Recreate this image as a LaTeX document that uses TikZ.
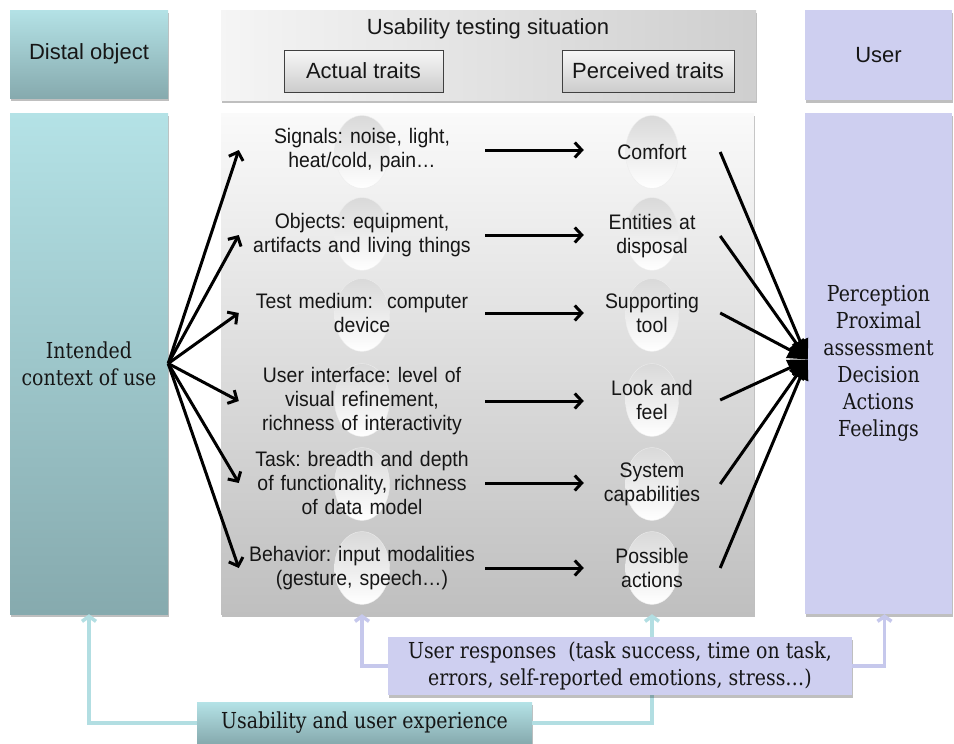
\documentclass[tikz,border=0pt]{standalone}
\usepackage{fontspec}
\setmainfont{Liberation Sans}
\newfontfamily\sansc[FakeStretch=0.925]{Liberation Sans}
\newfontfamily\serifc[FakeStretch=0.86]{DejaVu Serif}
\usetikzlibrary{arrows.meta,shapes.geometric,shadows}
\frenchspacing

\definecolor{tealtop}{RGB}{180,226,230}
\definecolor{tealbot}{RGB}{134,170,174}
\definecolor{lav}{RGB}{206,207,240}
\definecolor{lavline}{RGB}{198,200,236}
\definecolor{tealline}{RGB}{178,222,226}
\definecolor{ink}{RGB}{22,22,22}

\begin{document}
\begin{tikzpicture}[x=1pt,y=-1pt,
  hdr/.style={font=\fontsize{22}{26}\selectfont, text=ink},
  bodytext/.style={font=\sansc\fontsize{21}{24}\selectfont, align=center, inner sep=0pt, text=ink},
  serifbox/.style={font=\serifc\fontsize{22}{27}\selectfont, align=center, text=ink},
  boxshadow/.style={drop shadow={shadow xshift=1pt,shadow yshift=-2.5pt,opacity=0.25,fill=black}},
  tealbox/.style={rectangle, inner sep=0pt, top color=tealtop, bottom color=tealbot, boxshadow},
  lavbox/.style={rectangle, inner sep=0pt, fill=lav, boxshadow},
  graybox/.style={rectangle, inner sep=0pt, top color=white!98!black, bottom color=black!25, boxshadow},
  headbox/.style={rectangle, inner sep=0pt, left color=white!96!black, right color=black!19, boxshadow},
  traitbox/.style={rectangle, inner sep=0pt, minimum height=42pt, draw=black!75, line width=0.8pt,
    top color=white!97!black, bottom color=black!20, hdr},
  oval/.style={ellipse, inner sep=0pt, minimum height=73pt, top color=black!15, bottom color=white,
    draw=black!7, line width=0.4pt},
  flatarrow/.style={draw=black, line width=3pt, -{Straight Barb[length=7pt,width=15pt]}},
  bigarrow/.style={draw=black, line width=3pt, -{Triangle[length=20pt,width=17pt]}},
  tealconn/.style={draw=tealline, line width=3.5pt, -{Straight Barb[length=5pt,width=14pt]}},
  lavconn/.style={draw=lavline, line width=3.5pt, -{Straight Barb[length=5pt,width=14pt]}}
]
\useasboundingbox (0,0) rectangle (954,744);

% header row
\node[tealbox, minimum width=158pt, minimum height=88pt, hdr] (distal) at (89,54) {Distal object};
\node[headbox, minimum width=535pt, minimum height=90pt] (situation) at (488.5,55) {};
\node[hdr] (title) at (488,29) {Usability testing situation};
\node[traitbox, minimum width=159pt] (actual) at (363.5,71) {Actual traits};
\node[traitbox, minimum width=172pt] (perceived) at (648,71) {Perceived traits};
\node[lavbox, minimum width=147pt, minimum height=90pt, hdr] (userhead) at (878.5,55) {User};

% main columns
\node[tealbox, serifbox, minimum width=158pt, minimum height=501pt] (context) at (89,363.5) {Intended\\context of use};
\node[graybox, minimum width=533pt, minimum height=501pt] (traits) at (487.5,363.5) {};
\node[lavbox, serifbox, minimum width=147pt, minimum height=501pt] (userbox) at (878.5,363.5)
  {Perception\\Proximal\\assessment\\Decision\\Actions\\Feelings};

% ovals behind the trait labels
\foreach \y [count=\i] in {152,234,315,400,484,568} {
  \node[oval, minimum width=55pt] (ae\i) at (362,\y) {};
  \node[oval, minimum width=53pt] (pe\i) at (652,\y) {};
}

% actual traits
\node[bodytext, text width=246pt] (a1) at (362,150) {Signals: noise, light,\\heat/cold, pain…};
\node[bodytext, text width=246pt] (a2) at (362,235) {Objects: equipment,\\artifacts and living things};
\node[bodytext, text width=246pt] (a3) at (362,313) {Test medium:\ \ computer\\device};
\node[bodytext, text width=246pt] (a4) at (362,401) {User interface: level of\\visual refinement,\\richness of interactivity};
\node[bodytext, text width=246pt] (a5) at (362,483) {Task: breadth and depth\\of functionality, richness\\of data model};
\node[bodytext, text width=246pt] (a6) at (362,568) {Behavior: input modalities\\(gesture, speech…)};

% perceived traits
\node[bodytext, text width=136pt] (p1) at (652,152) {Comfort};
\node[bodytext, text width=136pt] (p2) at (652,236) {Entities at\\disposal};
\node[bodytext, text width=136pt] (p3) at (652,313) {Supporting\\tool};
\node[bodytext, text width=136pt] (p4) at (652,400) {Look and\\feel};
\node[bodytext, text width=136pt] (p5) at (652,484) {System\\capabilities};
\node[bodytext, text width=136pt] (p6) at (652,568) {Possible\\actions};

% context fans out to the actual traits, which lead to the user
\foreach \i in {1,...,6} {
  \draw[flatarrow] (context.east) -- (a\i.west);
  \draw[flatarrow] (a\i.east) -- (a\i.east -| p\i.west);
  \draw[bigarrow] (p\i.east) -- ([xshift=3pt,yshift=4pt]userbox.west);
}

% feedback loops at the bottom
\node[tealbox, serifbox, minimum width=335pt, minimum height=41pt] (ux) at (364.5,723) {Usability and user experience};
\draw[tealconn] (ux.west) -| (context.south);
\draw[tealconn] (ux.east) -| (traits.south -| p6);
\node[lavbox, serifbox, minimum width=464pt, minimum height=58pt] (responses) at (620,666)
  {User responses\ \ (task success, time on task,\\errors, self-reported emotions, stress…)};
\draw[lavconn] (responses.west) -| (traits.south -| a6);
\draw[lavconn] (responses.east) -| ([xshift=6pt]userbox.south);
\end{tikzpicture}
\end{document}
